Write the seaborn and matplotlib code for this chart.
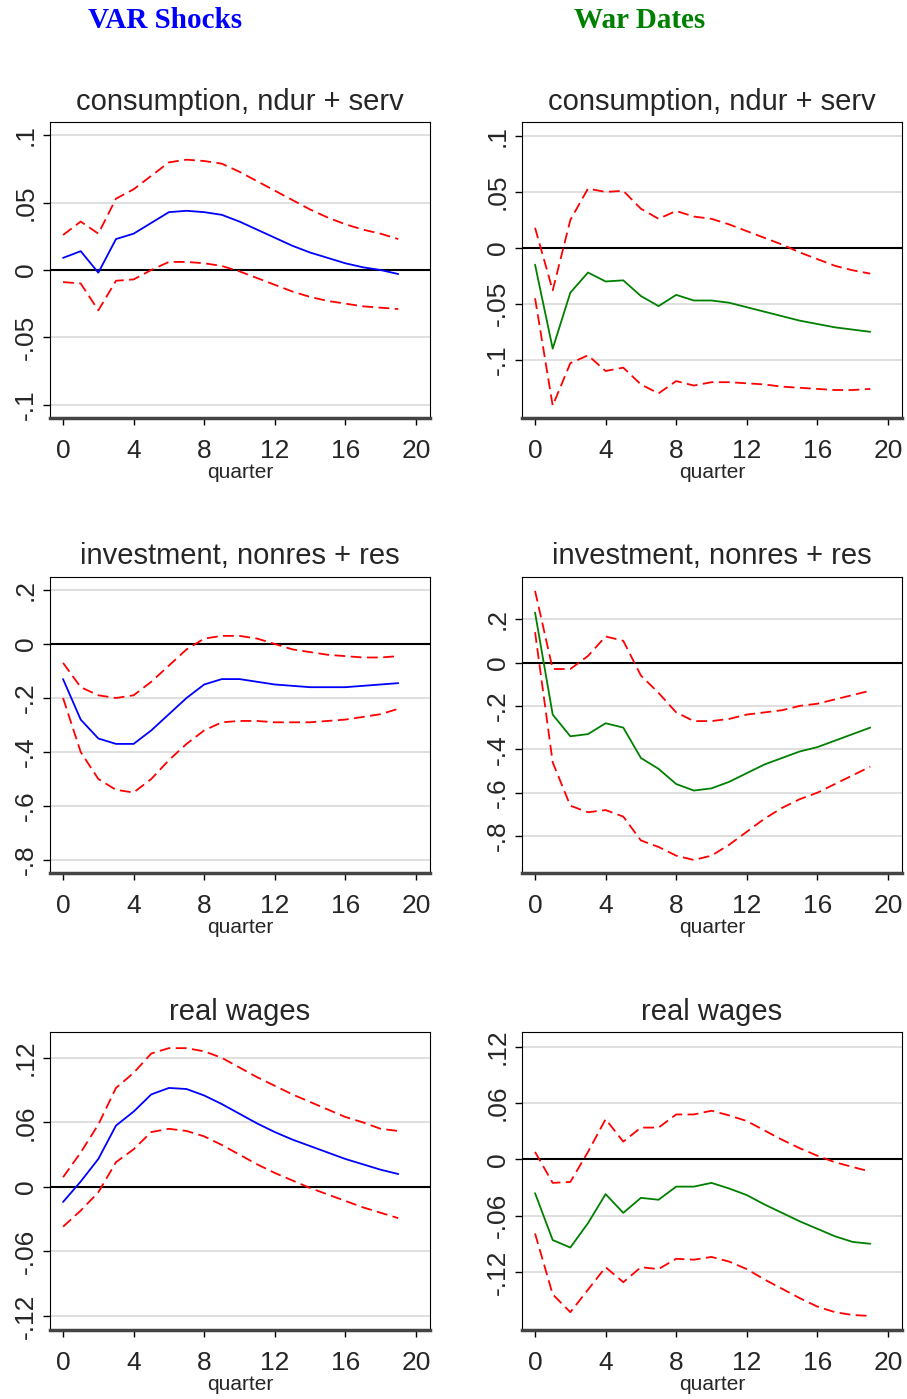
import numpy as np
import pandas as pd
import matplotlib
matplotlib.use('Agg')
import matplotlib.pyplot as plt
import seaborn as sns

sns.set_theme(style="white")
plt.rcParams['font.family'] = ['Liberation Sans', 'DejaVu Sans']

quarter = list(range(20))

# ── consumption ────────────────────────────────────────────
cons_var_mid = [0.009, 0.014, -0.002, 0.023, 0.027, 0.035, 0.043, 0.044, 0.043, 0.041,
                0.036, 0.030, 0.024, 0.018, 0.013, 0.009, 0.005, 0.002, 0.000, -0.003]
cons_var_hi = [0.026, 0.036, 0.027, 0.053, 0.060, 0.070, 0.080, 0.082, 0.081, 0.079,
               0.073, 0.066, 0.059, 0.052, 0.045, 0.039, 0.034, 0.030, 0.027, 0.023]
cons_var_lo = [-0.009, -0.010, -0.030, -0.008, -0.007, 0.000, 0.006, 0.006, 0.005, 0.003,
               -0.001, -0.006, -0.011, -0.016, -0.020, -0.023, -0.025, -0.027, -0.028, -0.029]
cons_war_mid = [-0.015, -0.090, -0.040, -0.022, -0.030, -0.029, -0.043, -0.052, -0.042, -0.047,
                -0.047, -0.049, -0.053, -0.057, -0.061, -0.065, -0.068, -0.071, -0.073, -0.075]
cons_war_hi = [0.018, -0.038, 0.025, 0.053, 0.050, 0.051, 0.035, 0.026, 0.033, 0.028,
               0.026, 0.021, 0.015, 0.009, 0.003, -0.004, -0.010, -0.016, -0.020, -0.023]
cons_war_lo = [-0.045, -0.141, -0.103, -0.096, -0.110, -0.107, -0.122, -0.130, -0.119, -0.123,
               -0.120, -0.120, -0.121, -0.122, -0.124, -0.125, -0.126, -0.127, -0.127, -0.126]

# ── investment ─────────────────────────────────────────────
inv_var_mid = [-0.13, -0.28, -0.35, -0.37, -0.37, -0.32, -0.26, -0.20, -0.15, -0.13,
               -0.13, -0.14, -0.15, -0.155, -0.16, -0.16, -0.16, -0.155, -0.15, -0.145]
inv_var_hi = [-0.07, -0.16, -0.19, -0.20, -0.19, -0.14, -0.08, -0.02, 0.02, 0.03,
              0.03, 0.02, 0.00, -0.02, -0.03, -0.04, -0.045, -0.05, -0.05, -0.045]
inv_var_lo = [-0.20, -0.40, -0.50, -0.54, -0.55, -0.50, -0.43, -0.37, -0.32, -0.29,
              -0.285, -0.285, -0.29, -0.29, -0.29, -0.285, -0.28, -0.27, -0.26, -0.24]
inv_war_mid = [0.23, -0.24, -0.34, -0.33, -0.28, -0.30, -0.44, -0.49, -0.56, -0.59,
               -0.58, -0.55, -0.51, -0.47, -0.44, -0.41, -0.39, -0.36, -0.33, -0.30]
inv_war_hi = [0.33, -0.03, -0.03, 0.03, 0.12, 0.10, -0.06, -0.14, -0.23, -0.27,
              -0.27, -0.26, -0.24, -0.23, -0.22, -0.20, -0.19, -0.17, -0.15, -0.13]
inv_war_lo = [0.14, -0.46, -0.66, -0.69, -0.68, -0.71, -0.82, -0.85, -0.89, -0.91,
              -0.89, -0.84, -0.78, -0.72, -0.67, -0.63, -0.60, -0.56, -0.52, -0.48]

# ── real wages ─────────────────────────────────────────────
wage_var_mid = [-0.014, 0.005, 0.026, 0.057, 0.070, 0.086, 0.092, 0.091, 0.085, 0.077,
                0.068, 0.059, 0.051, 0.044, 0.038, 0.032, 0.026, 0.021, 0.016, 0.012]
wage_var_hi = [0.009, 0.032, 0.058, 0.092, 0.106, 0.124, 0.129, 0.129, 0.126, 0.120,
               0.111, 0.102, 0.094, 0.086, 0.079, 0.072, 0.065, 0.060, 0.054, 0.052]
wage_var_lo = [-0.037, -0.022, -0.005, 0.023, 0.035, 0.051, 0.054, 0.052, 0.047, 0.039,
               0.030, 0.021, 0.013, 0.006, -0.001, -0.007, -0.013, -0.019, -0.024, -0.029]
wage_war_mid = [-0.036, -0.086, -0.094, -0.068, -0.037, -0.057, -0.041, -0.043, -0.029, -0.029,
                -0.025, -0.031, -0.038, -0.048, -0.057, -0.066, -0.074, -0.082, -0.088, -0.090]
wage_war_hi = [0.008, -0.025, -0.024, 0.008, 0.043, 0.019, 0.034, 0.034, 0.048, 0.048,
               0.052, 0.047, 0.041, 0.031, 0.021, 0.012, 0.004, -0.003, -0.008, -0.013]
wage_war_lo = [-0.079, -0.144, -0.163, -0.139, -0.115, -0.131, -0.115, -0.117, -0.106, -0.107,
               -0.104, -0.109, -0.117, -0.128, -0.138, -0.148, -0.157, -0.163, -0.166, -0.167]

titles = ['consumption, ndur + serv', 'investment, nonres + res', 'real wages']
panels = [
    # (mid, hi, lo, colour, ylim, ticks, ticklabels)
    [(cons_var_mid, cons_var_hi, cons_var_lo, 'blue', (-0.110, 0.110),
      [-0.1, -0.05, 0, 0.05, 0.1], ['-.1', '-.05', '0', '.05', '.1']),
     (cons_war_mid, cons_war_hi, cons_war_lo, 'green', (-0.152, 0.1125),
      [-0.1, -0.05, 0, 0.05, 0.1], ['-.1', '-.05', '0', '.05', '.1'])],
    [(inv_var_mid, inv_var_hi, inv_var_lo, 'blue', (-0.848, 0.248),
      [-0.8, -0.6, -0.4, -0.2, 0, 0.2], ['-.8', '-.6', '-.4', '-.2', '0', '.2']),
     (inv_war_mid, inv_war_hi, inv_war_lo, 'green', (-0.97, 0.394),
      [-0.8, -0.6, -0.4, -0.2, 0, 0.2], ['-.8', '-.6', '-.4', '-.2', '0', '.2'])],
    [(wage_var_mid, wage_var_hi, wage_var_lo, 'blue', (-0.133, 0.144),
      [-0.12, -0.06, 0, 0.06, 0.12], ['-.12', '-.06', '0', '.06', '.12']),
     (wage_war_mid, wage_war_hi, wage_war_lo, 'green', (-0.182, 0.136),
      [-0.12, -0.06, 0, 0.06, 0.12], ['-.12', '-.06', '0', '.06', '.12'])],
]

W, H = 907, 1399
fig = plt.figure(figsize=(W / 100, H / 100), dpi=100)
col_x = [50, 522]
row_y = [(122, 418), (577, 873), (1032, 1330)]
AX_W = 380

for r, row in enumerate(panels):
    for c, (mid, hi, lo, colr, ylim, ticks, tlabels) in enumerate(row):
        top, bot = row_y[r]
        ax = fig.add_axes([col_x[c] / W, 1 - bot / H, AX_W / W, (bot - top) / H])
        df = pd.DataFrame({'quarter': quarter, 'mid': mid, 'hi': hi, 'lo': lo})
        for t in ticks:
            if t != 0:
                ax.axhline(t, color='#dcdcdc', lw=1.3, zorder=0)
        ax.axhline(0, color='black', lw=1.5, zorder=1)
        sns.lineplot(data=df, x='quarter', y='hi', ax=ax, color='red', lw=1.3,
                     linestyle=(0, (6, 3)))
        sns.lineplot(data=df, x='quarter', y='lo', ax=ax, color='red', lw=1.3,
                     linestyle=(0, (6, 3)))
        sns.lineplot(data=df, x='quarter', y='mid', ax=ax, color=colr, lw=1.3)
        ax.set_xlim(-0.74, 20.8)
        ax.set_ylim(*ylim)
        ax.set_xticks([0, 4, 8, 12, 16, 20])
        ax.set_yticks(ticks)
        ax.set_yticklabels(tlabels, rotation=90, va='center')
        ax.tick_params(axis='both', labelsize=19, length=5, width=1, direction='out',
                       left=True, bottom=True, color='black')
        ax.tick_params(axis='x', pad=10)
        ax.tick_params(axis='y', pad=4)
        ax.set_xlabel('quarter', fontsize=15, labelpad=0)
        ax.set_ylabel('')
        ax.set_title(titles[r], fontsize=21, pad=9)
        for s in ['top', 'right', 'left']:
            ax.spines[s].set_color('black')
            ax.spines[s].set_linewidth(0.8)
        ax.spines['bottom'].set_color('#444444')
        ax.spines['bottom'].set_linewidth(2.5)

fig.text(165 / W, 1 - 20 / H, 'VAR Shocks', color='blue', fontsize=21, fontweight='bold',
         family=['Liberation Serif', 'DejaVu Serif'], ha='center', va='center')
fig.text(640 / W, 1 - 20 / H, 'War Dates', color='green', fontsize=21, fontweight='bold',
         family=['Liberation Serif', 'DejaVu Serif'], ha='center', va='center')

fig.savefig('out.png', dpi=100, facecolor='white')
